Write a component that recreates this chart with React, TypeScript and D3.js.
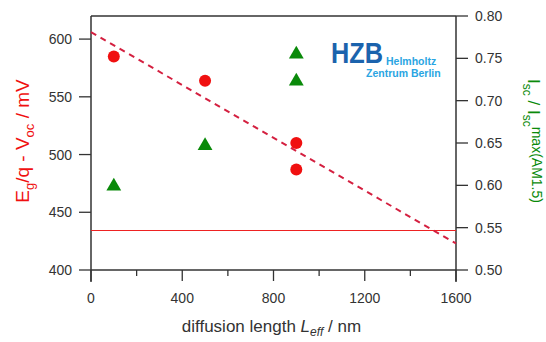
import React from 'react';
import * as d3 from 'd3';

// values
const diffLength = [100, 500, 900, 900];
const voltageLoss = [585, 564, 510, 487]; // Eg/q - Voc, mV
const currentLength = [100, 500, 900, 900];
const currentRatio = [0.6, 0.648, 0.756, 0.724]; // Isc / Isc max
const fitX = [0, 1600];
const fitY = [606, 423];
const limitLoss = 435;

const xTicks = [0, 400, 800, 1200, 1600];
const xMinor = [200, 600, 1000, 1400];
const leftTicks = [400, 450, 500, 550, 600];
const rightTicks = [0.5, 0.55, 0.6, 0.65, 0.7, 0.75, 0.8];

const FONT = "'Liberation Sans', Arial, sans-serif";
const RED = '#f01010';
const GREEN = '#0a8a0a';
const AXIS = '#333';

const margin = { top: 16, right: 90, bottom: 72, left: 91 };
const width = 546;
const height = 342;

const App = () => {
  const innerW = width - margin.left - margin.right;
  const innerH = height - margin.top - margin.bottom;

  const x = d3.scaleLinear().domain([0, 1600]).range([0, innerW]);
  const yL = d3.scaleLinear().domain([400, 620]).range([innerH, 0]);
  const yR = d3.scaleLinear().domain([0.5, 0.8]).range([innerH, 0]);

  const fit = d3.line<number>()
    .x((d, i) => x(fitX[i]))
    .y((d) => yL(d));

  const tri = d3.symbol().type(d3.symbolTriangle).size(95)();
  const limitY = Math.round(yL(limitLoss)) + 0.5;

  return (
    <svg width={width} height={height} style={{ position: 'absolute', left: 0, top: 0 }}>
      <rect width={width} height={height} fill="#fff" />
      <g transform={`translate(${margin.left},${margin.top})`} fontFamily={FONT}>
        {/* frame */}
        <line x1={0} x2={innerW} y1={0} y2={0} stroke={AXIS} strokeWidth={1.5} />
        <line x1={0} x2={innerW} y1={innerH} y2={innerH} stroke={AXIS} strokeWidth={1.5} />
        <line x1={0} x2={0} y1={0} y2={innerH + 12} stroke={AXIS} strokeWidth={1.5} />
        <line x1={innerW} x2={innerW} y1={0} y2={innerH + 12} stroke={AXIS} strokeWidth={1.5} />

        {/* x axis */}
        {xTicks.map((t) => (
          <g key={'x' + t}>
            <line x1={x(t)} x2={x(t)} y1={innerH} y2={innerH + 11} stroke={AXIS} strokeWidth={1.3} />
            <text x={x(t)} y={innerH + 33} textAnchor="middle" fontSize={14} fill={AXIS}>{t}</text>
          </g>
        ))}
        {xMinor.map((t) => (
          <line key={'xm' + t} x1={x(t)} x2={x(t)} y1={innerH} y2={innerH + 6} stroke={AXIS} strokeWidth={1.3} />
        ))}
        <text x={innerW / 2 - 2} y={innerH + 62} textAnchor="middle" fontSize={17} fill={AXIS}>
          diffusion length <tspan fontStyle="italic">L</tspan>
          <tspan fontStyle="italic" fontSize={12} dy={4}>eff</tspan>
          <tspan dy={-4}> / nm</tspan>
        </text>

        {/* left axis */}
        {leftTicks.map((t) => (
          <g key={'l' + t}>
            <line x1={-12} x2={0} y1={yL(t)} y2={yL(t)} stroke={AXIS} strokeWidth={1.3} />
            <text x={-19} y={yL(t) + 5} textAnchor="end" fontSize={14} fill={AXIS}>{t}</text>
          </g>
        ))}
        <text transform={`translate(${-62},${innerH / 2 - 2}) rotate(-90)`} textAnchor="middle" fontSize={19} fill={RED}>
          E<tspan fontSize={13} dy={5}>g</tspan>
          <tspan dy={-5}>/q - V</tspan>
          <tspan fontSize={13} dy={5}>oc</tspan>
          <tspan dy={-5}> / mV</tspan>
        </text>

        {/* right axis */}
        {rightTicks.map((t) => (
          <g key={'r' + t}>
            <line x1={innerW} x2={innerW + 12} y1={yR(t)} y2={yR(t)} stroke={AXIS} strokeWidth={1.3} />
            <text x={innerW + 19} y={yR(t) + 5} textAnchor="start" fontSize={14} fill={AXIS}>{t.toFixed(2)}</text>
          </g>
        ))}
        <text transform={`translate(${innerW + 72},${innerH / 2 - 2}) rotate(90)`} textAnchor="middle" fontSize={17} fill={GREEN}>
          I<tspan fontSize={12} dy={5}>sc</tspan>
          <tspan dy={-5}> / I</tspan>
          <tspan fontSize={12} dy={5}>sc</tspan>
          <tspan fontSize={14} dy={-9}>max(AM1.5)</tspan>
        </text>

        {/* limit line */}
        <line x1={0} x2={innerW} y1={limitY} y2={limitY} stroke="#ee2222" strokeWidth={1} />

        {/* fit */}
        <path d={fit(fitY) || ''} fill="none" stroke="#d42040" strokeWidth={2} strokeDasharray="6,5" />

        {/* data */}
        {diffLength.map((d, i) => (
          <circle key={'c' + i} cx={x(d)} cy={yL(voltageLoss[i])} r={6} fill={RED} />
        ))}
        {currentLength.map((d, i) => (
          <path key={'t' + i} d={tri || ''} transform={`translate(${x(d)},${yR(currentRatio[i]) + 1})`} fill={GREEN} />
        ))}
      </g>

      {/* logo */}
      <g fontFamily={FONT} fontWeight="bold">
        <text x={331} y={63} fontSize={29} fill="#1b63ad" textLength={52} lengthAdjust="spacingAndGlyphs">HZB</text>
        <text x={386} y={65} fontSize={10.5} fill="#2aa5e2">Helmholtz</text>
        <text x={366} y={77} fontSize={10.5} fill="#2aa5e2">Zentrum Berlin</text>
      </g>
    </svg>
  );
};

export default App;
